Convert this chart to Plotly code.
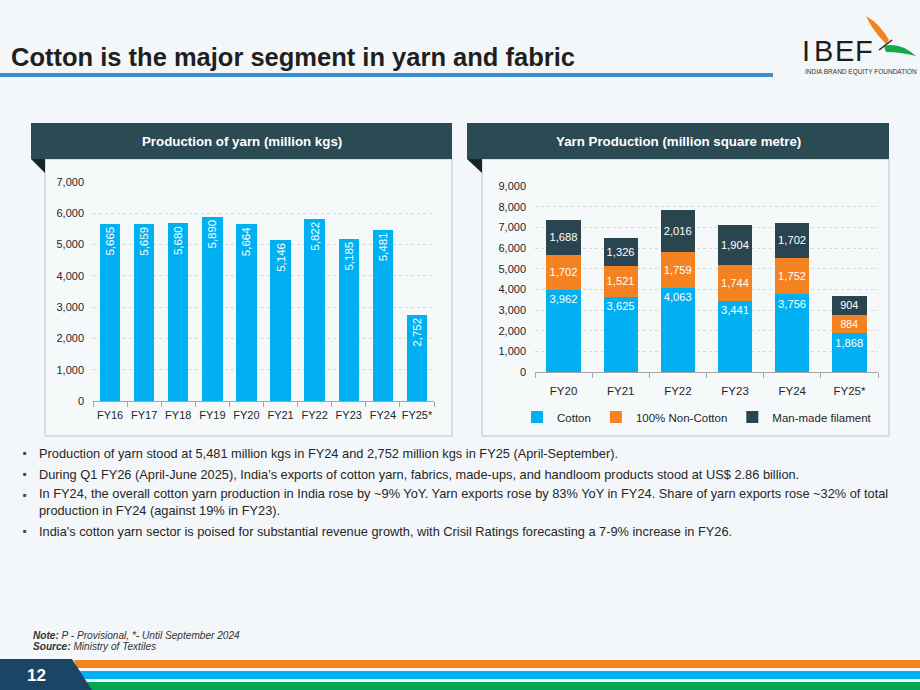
import plotly.graph_objects as go

W, H = 920, 690

# ---------------- data ----------------
left_years = ["FY16", "FY17", "FY18", "FY19", "FY20", "FY21", "FY22", "FY23", "FY24", "FY25*"]
left_values = [5665, 5659, 5680, 5890, 5664, 5146, 5822, 5185, 5481, 2752]

right_years = ["FY20", "FY21", "FY22", "FY23", "FY24", "FY25*"]
cotton = [3962, 3625, 4063, 3441, 3756, 1868]
non_cotton = [1702, 1521, 1759, 1744, 1752, 884]
man_made = [1688, 1326, 2016, 1904, 1702, 904]

left_ticks = [0, 1000, 2000, 3000, 4000, 5000, 6000, 7000]
right_ticks = [0, 1000, 2000, 3000, 4000, 5000, 6000, 7000, 8000, 9000]

title_text = "Cotton is the major segment in yarn and fabric"
left_title = "Production of yarn (million kgs)"
right_title = "Yarn Production (million square metre)"
bullets = [
    "Production of yarn stood at 5,481 million kgs in FY24 and 2,752 million kgs in FY25 (April-September).",
    "During Q1 FY26 (April-June 2025), India’s exports of cotton yarn, fabrics, made-ups, and handloom products stood at US$ 2.86 billion.",
    "In FY24, the overall cotton yarn production in India rose by ~9% YoY. Yarn exports rose by 83% YoY in FY24. Share of yarn exports rose ~32% of total<br>production in FY24 (against 19% in FY23).",
    "India's cotton yarn sector is poised for substantial revenue growth, with Crisil Ratings forecasting a 7-9% increase in FY26.",
]

# ---------------- styles ----------------
BG = "#F4F7F9"
BLUE = "#00B0F0"
ORANGE = "#F58220"
DARK = "#2B4550"
HEADER = "#2B4A53"
FONT = "Liberation Sans, Arial, sans-serif"
TXT = "#262626"


def px(x):
    return x / W


def py(y):
    return 1 - y / H


fig = go.Figure()

fig.add_trace(go.Bar(
    x=left_years, y=left_values, marker=dict(color=BLUE, line=dict(width=0)),
    texttemplate="%{y:,}", textposition="inside", insidetextanchor="end",
    textangle=-90, textfont=dict(color="white", size=11.5, family=FONT),
    xaxis="x", yaxis="y", showlegend=False,
))

for name, vals, col, anchor in [("Cotton", cotton, BLUE, "end"),
                                ("100% Non-Cotton", non_cotton, ORANGE, "middle"),
                                ("Man-made filament", man_made, DARK, "middle")]:
    fig.add_trace(go.Bar(
        x=right_years, y=vals, name=name, marker=dict(color=col, line=dict(width=0)),
        texttemplate="%{y:,}", textposition="inside", insidetextanchor=anchor,
        textangle=0, textfont=dict(color="white", size=12, family=FONT),
        xaxis="x2", yaxis="y2",
    ))

# ---------------- shapes ----------------
shapes = []
shapes.append(dict(type="rect", xref="paper", yref="paper", x0=px(0), x1=px(773), y0=py(77), y1=py(73),
                   fillcolor="#3A8FD3", line=dict(width=0), layer="below"))
for (hx0, hx1, bx0) in [(31, 452, 45), (467, 889, 482)]:
    shapes.append(dict(type="rect", xref="paper", yref="paper", x0=px(bx0), x1=px(hx1), y0=py(436), y1=py(159),
                       fillcolor="#F6F9FA", line=dict(color="#B5C5CA", width=1), layer="below"))
    shapes.append(dict(type="rect", xref="paper", yref="paper", x0=px(hx0), x1=px(hx1), y0=py(159), y1=py(123),
                       fillcolor=HEADER, line=dict(width=0), layer="below"))
    shapes.append(dict(type="path", xref="paper", yref="paper",
                       path=f"M {px(hx0)} {py(159)} L {px(bx0)} {py(159)} L {px(bx0)} {py(173)} Z",
                       fillcolor="#15252B", line=dict(width=0), layer="below"))

shapes.append(dict(type="path", xref="paper", yref="paper",
                   path=f"M {px(74)} {py(660)} L {px(920)} {py(660)} L {px(920)} {py(668)} L {px(77)} {py(668)} Z",
                   fillcolor="#F58220", line=dict(width=0)))
shapes.append(dict(type="path", xref="paper", yref="paper",
                   path=f"M {px(78)} {py(671)} L {px(920)} {py(671)} L {px(920)} {py(679)} L {px(82)} {py(679)} Z",
                   fillcolor="#00B0F0", line=dict(width=0)))
shapes.append(dict(type="path", xref="paper", yref="paper",
                   path=f"M {px(83)} {py(682)} L {px(920)} {py(682)} L {px(920)} {py(690)} L {px(86)} {py(690)} Z",
                   fillcolor="#00A651", line=dict(width=0)))
shapes.append(dict(type="path", xref="paper", yref="paper",
                   path=f"M {px(0)} {py(659)} L {px(72)} {py(659)} L {px(92)} {py(690)} L {px(0)} {py(690)} Z",
                   fillcolor="#1B4565", line=dict(width=0)))
# logo bird
shapes.append(dict(type="path", xref="paper", yref="paper",
                   path=(f"M {px(866)} {py(16)} Q {px(872)} {py(30)} {px(886)} {py(44)} "
                         f"L {px(889)} {py(40)} Q {px(880)} {py(24)} {px(866)} {py(16)} Z"),
                   fillcolor="#F58220", line=dict(width=0)))
shapes.append(dict(type="path", xref="paper", yref="paper",
                   path=(f"M {px(884)} {py(46)} Q {px(900)} {py(42)} {px(916)} {py(56)} "
                         f"Q {px(900)} {py(52)} {px(886)} {py(52)} Z"),
                   fillcolor="#1AA84B", line=dict(width=0)))
shapes.append(dict(type="line", xref="paper", yref="paper", x0=px(879), y0=py(50), x1=px(892), y1=py(40),
                   line=dict(color="#222222", width=1.5)))

# ---------------- annotations ----------------
ann = []
ann.append(dict(text=f"<b>{title_text}</b>", x=px(9), y=py(57), xref="paper", yref="paper",
                xanchor="left", yanchor="middle", showarrow=False,
                font=dict(family=FONT, size=25.5, color="#1F1F1F")))
ann.append(dict(text=f"<b>{left_title}</b>", x=px((31 + 452) / 2), y=py(142), xref="paper", yref="paper",
                xanchor="center", yanchor="middle", showarrow=False,
                font=dict(family=FONT, size=13.3, color="white")))
ann.append(dict(text=f"<b>{right_title}</b>", x=px((467 + 889) / 2), y=py(142), xref="paper", yref="paper",
                xanchor="center", yanchor="middle", showarrow=False,
                font=dict(family=FONT, size=13.3, color="white")))
bullet_y = [453, 474, 502, 531]
for yy, t in zip(bullet_y, bullets):
    first_y = yy - 7.5 if "<br>" in t else yy
    ann.append(dict(text="■", x=px(21), y=py(first_y), xref="paper", yref="paper",
                    xanchor="left", yanchor="middle", showarrow=False,
                    font=dict(family=FONT, size=6, color="#444")))
    ann.append(dict(text=t, x=px(37), y=py(yy), xref="paper", yref="paper",
                    xanchor="left", yanchor="middle", align="left", showarrow=False,
                    font=dict(family=FONT, size=12.8, color=TXT)))
ann.append(dict(text="<b><i>Note:</i></b><i> P - Provisional, *- Until September 2024</i>",
                x=px(31), y=py(635), xref="paper", yref="paper", xanchor="left", yanchor="middle",
                showarrow=False, font=dict(family=FONT, size=10.1, color="#333")))
ann.append(dict(text="<b><i>Source:</i></b><i> Ministry of Textiles</i>",
                x=px(31), y=py(646), xref="paper", yref="paper", xanchor="left", yanchor="middle",
                showarrow=False, font=dict(family=FONT, size=10.1, color="#333")))
ann.append(dict(text="<b>12</b>", x=px(36), y=py(675), xref="paper", yref="paper",
                xanchor="center", yanchor="middle", showarrow=False,
                font=dict(family=FONT, size=17, color="white")))
for letter, lx in [("I", 806), ("B", 823), ("E", 844), ("F", 864)]:
    ann.append(dict(text=letter, x=px(lx), y=py(51), xref="paper", yref="paper",
                    xanchor="center", yanchor="middle", showarrow=False,
                    font=dict(family=FONT, size=29, color="#1E1E1E")))
ann.append(dict(text="INDIA BRAND EQUITY FOUNDATION", x=px(803), y=py(72), xref="paper", yref="paper",
                xanchor="left", yanchor="middle", showarrow=False,
                font=dict(family=FONT, size=6.5, color="#333")))

axis_common = dict(showline=False, zeroline=False, automargin=False,
                   tickfont=dict(family=FONT, size=11, color=TXT))

fig.update_layout(
    width=W, height=H, margin=dict(l=0, r=0, t=0, b=0, autoexpand=False),
    paper_bgcolor=BG, plot_bgcolor="rgba(0,0,0,0)",
    font=dict(family=FONT, color=TXT),
    barmode="stack", bargap=0.4,
    shapes=shapes, annotations=ann,
    xaxis=dict(domain=[px(93), px(434)], anchor="y", type="category", automargin=False,
               showline=True, linecolor="#A6A6A6", linewidth=1,
               ticks="outside", tickson="boundaries", ticklen=5, tickcolor="#A6A6A6",
               showgrid=False, tickangle=0, ticklabelstandoff=4,
               tickfont=dict(family=FONT, size=11, color=TXT)),
    yaxis=dict(domain=[py(401), py(182)], anchor="x", range=[0, 7000], tickvals=left_ticks,
               tickformat=",", showgrid=True, gridcolor="#D9D9D9", griddash="dot", gridwidth=1,
               ticklabelstandoff=8, **axis_common),
    xaxis2=dict(domain=[px(535), px(878)], anchor="y2", type="category", automargin=False,
                showline=True, linecolor="#A6A6A6", linewidth=1,
                ticks="outside", tickson="boundaries", ticklen=5, tickcolor="#A6A6A6",
                showgrid=False, tickangle=0, ticklabelstandoff=8,
                tickfont=dict(family=FONT, size=11.5, color=TXT)),
    yaxis2=dict(domain=[py(372), py(186)], anchor="x2", range=[0, 9000], tickvals=right_ticks,
                tickformat=",", showgrid=True, gridcolor="#D9D9D9", griddash="dot", gridwidth=1,
                ticklabelstandoff=8, **axis_common),
    legend=dict(orientation="h", x=px(697), xanchor="center", y=py(417), yanchor="middle",
                bgcolor="rgba(0,0,0,0)", font=dict(family=FONT, size=11.5, color=TXT),
                itemwidth=30, traceorder="normal"),
)

fig.write_html("out.html",
               post_script="document.body.style.margin='0';document.body.style.overflow='hidden';")
